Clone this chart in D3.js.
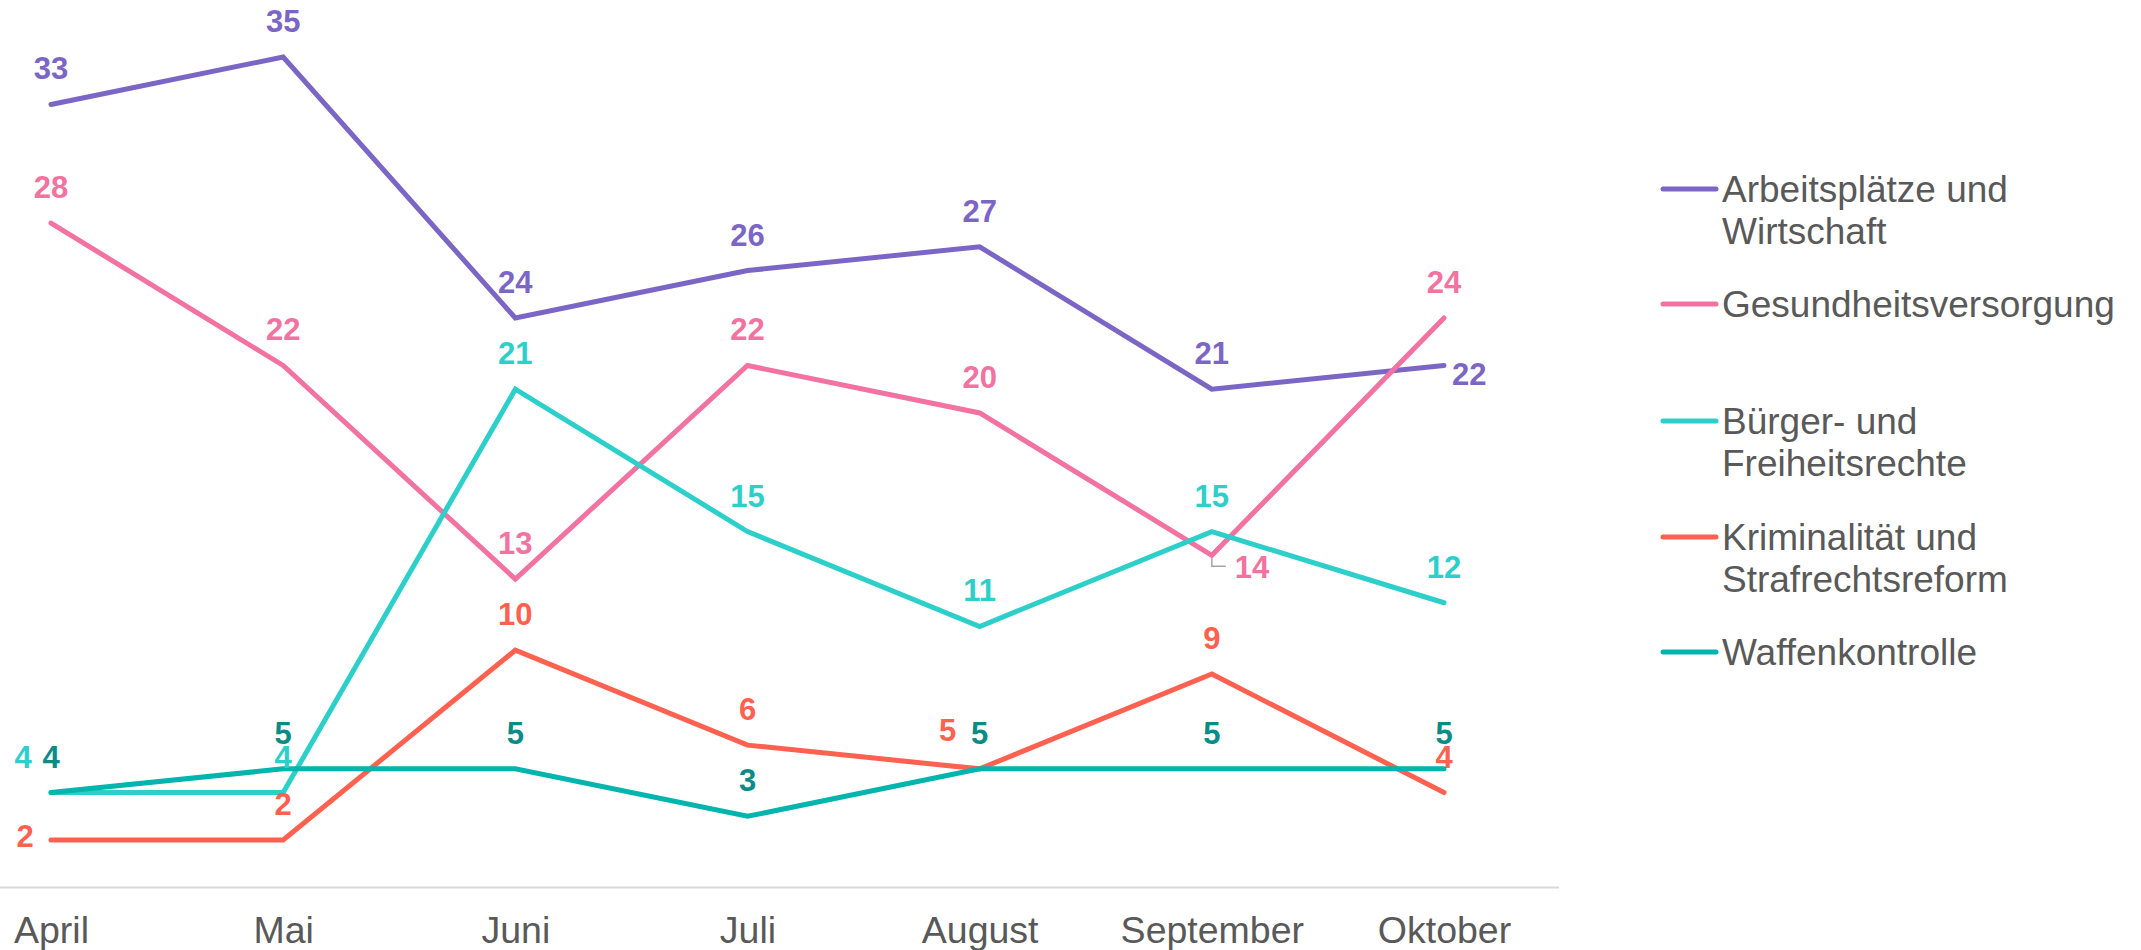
<!DOCTYPE html>
<html>
<head>
<meta charset="utf-8">
<script src="https://cdn.jsdelivr.net/npm/d3@7"></script>
<style>
  html, body { margin: 0; padding: 0; background: #ffffff; }
  svg { display: block; font-family: "Liberation Sans", Arial, sans-serif; }
</style>
</head>
<body>
<svg id="chart" width="2141" height="950"></svg>
<script>
// ---- data ----
const months = ["April", "Mai", "Juni", "Juli", "August", "September", "Oktober"];
const seriesNames = [
  ["Arbeitsplätze und", "Wirtschaft"],
  ["Gesundheitsversorgung"],
  ["Bürger- und", "Freiheitsrechte"],
  ["Kriminalität und", "Strafrechtsreform"],
  ["Waffenkontrolle"]
];
const arbeitsplaetze = [33, 35, 24, 26, 27, 21, 22];
const gesundheit = [28, 22, 13, 22, 20, 14, 24];
const buergerrechte = [4, 4, 21, 15, 11, 15, 12];
const kriminalitaet = [2, 2, 10, 6, 5, 9, 4];
const waffenkontrolle = [4, 5, 5, 3, 5, 5, 5];
const seriesValues = [arbeitsplaetze, gesundheit, buergerrechte, kriminalitaet, waffenkontrolle];

// ---- styles ----
const lineColors = ["#7B66C5", "#F272A0", "#2CCFC9", "#FF6150", "#00B5AD"];
const labelColors = ["#7B66C5", "#F272A0", "#2CCFC9", "#FF6150", "#0A8C86"];
// label placement per series/point
const placements = [
  ["above","above","above","above","above","above","right"],
  ["above","above","above","above","above","leader","above"],
  ["leftAbove","above","above","above","above","above","above"],
  ["left","above","above","above","leftAboveWide","above","above"],
  ["above","above","above","above","above","above","above"]
];

const svg = d3.select("#chart");
const x = d3.scalePoint().domain(months).range([51, 1444]).padding(0);
const y = d3.scaleLinear().domain([0, 35]).range([887.5, 57]);

// baseline axis
svg.append("line")
  .attr("x1", 0).attr("x2", 1559)
  .attr("y1", y(0)).attr("y2", y(0))
  .attr("stroke", "#D9D9D9").attr("stroke-width", 2);

// x axis labels
const xAxis = d3.axisBottom(x).tickSize(0).tickPadding(0);
const gx = svg.append("g").attr("transform", `translate(0,${y(0)})`).call(xAxis);
gx.select(".domain").remove();
gx.selectAll("text")
  .attr("y", 55).attr("dy", null)
  .attr("font-size", 37.5)
  .attr("font-family", "'Liberation Sans', Arial, sans-serif")
  .attr("fill", "#595959");

const line = d3.line().x((d, i) => x(months[i])).y(d => y(d));

seriesValues.forEach((vals, s) => {
  svg.append("path")
    .datum(vals)
    .attr("d", line)
    .attr("fill", "none")
    .attr("stroke", lineColors[s])
    .attr("stroke-width", 5)
    .attr("stroke-linecap", "round")
    .attr("stroke-linejoin", "miter");
});

// data labels
seriesValues.forEach((vals, s) => {
  vals.forEach((v, i) => {
    const px = x(months[i]), py = y(v);
    const p = placements[s][i];
    let tx = px, ty = py - 25, anchor = "middle";
    if (p === "right") { tx = px + 8; ty = py + 20; anchor = "start"; }
    else if (p === "leftAbove") { tx = px - 28; ty = py - 25; }
    else if (p === "left") { tx = px - 26; ty = py + 7; }
    else if (p === "leftAboveWide") { tx = px - 32; ty = py - 28; }
    else if (p === "leader") {
      tx = px + 23; ty = py + 23; anchor = "start";
      svg.append("path")
        .attr("d", `M${px},${py + 3}V${py + 11}H${px + 14}`)
        .attr("fill", "none").attr("stroke", "#A6A6A6").attr("stroke-width", 1.5);
    }
    svg.append("text")
      .attr("x", tx).attr("y", ty)
      .attr("text-anchor", anchor)
      .attr("font-size", 31).attr("font-weight", "bold")
      .attr("fill", labelColors[s])
      .text(v);
  });
});

// legend
const legendY = [189, 304, 421, 537, 652];
const lg = svg.append("g");
seriesNames.forEach((lines, s) => {
  const g = lg.append("g").attr("transform", `translate(0,${legendY[s]})`);
  g.append("line").attr("x1", 1663).attr("x2", 1716).attr("y1", 0).attr("y2", 0)
    .attr("stroke", lineColors[s]).attr("stroke-width", 5).attr("stroke-linecap", "round");
  lines.forEach((t, k) => {
    g.append("text").attr("x", 1722).attr("y", 13 + k * 42)
      .attr("font-size", 37).attr("fill", "#595959").text(t);
  });
});
</script>
</body>
</html>
